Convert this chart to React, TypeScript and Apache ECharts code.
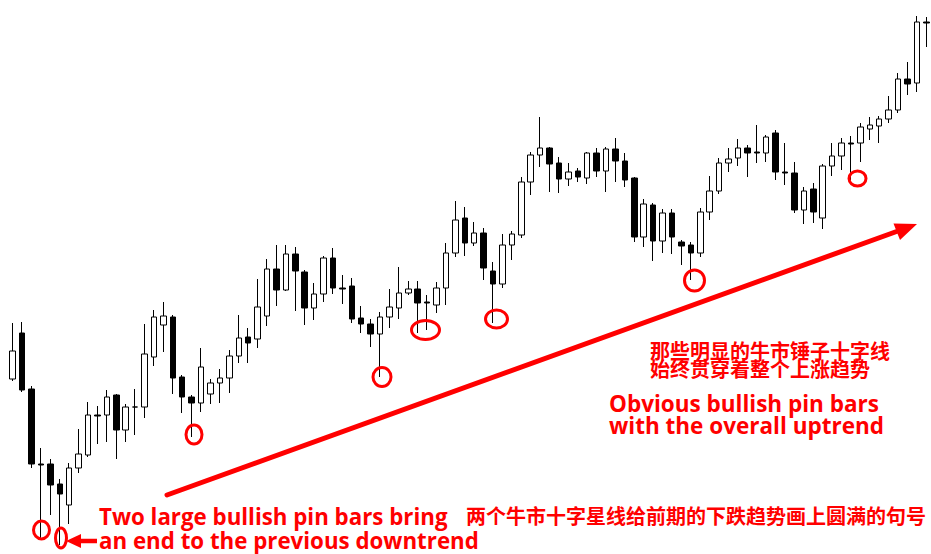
import React, { useEffect, useRef } from "react";
import * as echarts from "echarts";

// Each candle: open, close, low, high (price units)
const opens = [221,267,211,136,136,116,95,132,145,185,185,205,170,193,193,243,275,283,223,203,197,206,217,222,244,263,261,284,331,310,346,328,292,306,342,312,314,282,276,266,283,292,307,311,298,295,312,347,382,357,367,329,316,355,365,418,445,452,437,421,429,422,447,429,451,439,422,363,395,359,387,358,355,347,388,409,437,442,452,448,447,467,428,427,390,411,382,434,444,457,457,471,474,481,490,521,517,578];
const closes = [249,210,136,135,115,106,132,146,185,184,203,170,193,193,246,283,284,222,203,197,233,217,222,244,262,257,293,331,310,346,329,292,306,342,312,311,281,276,266,283,293,307,311,297,297,312,347,380,357,367,332,316,355,366,418,445,452,436,421,428,423,447,429,451,439,420,363,396,359,387,363,354,347,388,409,437,441,452,447,447,463,428,427,390,409,388,434,444,457,456,473,475,481,490,521,516,578,577];
const lows = [219,208,132,62,85,55,76,127,143,156,158,141,158,165,182,234,248,206,187,163,188,196,197,207,237,237,252,274,294,309,289,275,280,298,306,296,277,267,253,223,272,281,305,267,270,287,295,343,344,354,320,277,312,340,362,405,433,408,407,414,418,416,423,408,418,413,358,353,339,347,346,335,320,343,380,406,428,434,423,437,438,420,415,387,376,377,371,424,430,420,438,460,457,477,487,505,508,553];
const highs = [277,278,214,152,141,121,137,171,198,194,210,206,196,211,276,290,298,285,225,205,252,221,231,250,285,272,321,341,355,355,353,330,317,344,352,325,322,294,281,288,311,333,319,319,305,318,357,399,393,378,372,338,366,369,423,448,483,453,443,437,432,448,452,453,462,447,423,401,397,391,391,360,358,392,424,442,452,461,455,475,465,470,457,438,413,417,436,457,462,464,477,483,484,504,527,538,584,583];
const categories = opens.map((_, i) => `D${i + 1}`);

const priceMin = 46;
const priceMax = 600;

const RED = "#ff0000";

const englishFont = "'Open Sans', 'DejaVu Sans', sans-serif";
const cjkFont = "'Noto Sans CJK SC', sans-serif";

const pinCircles = [
  { cx: 41.5, cy: 530, rx: 8, ry: 9 },
  { cx: 61, cy: 538, rx: 5.5, ry: 10 },
  { cx: 194, cy: 434.5, rx: 8, ry: 9.5 },
  { cx: 382, cy: 377, rx: 9, ry: 9.5 },
  { cx: 425.5, cy: 330, rx: 14, ry: 9.5 },
  { cx: 496.5, cy: 319, rx: 11, ry: 9 },
  { cx: 694.5, cy: 280.5, rx: 10, ry: 10.5 },
  { cx: 857.5, cy: 178.5, rx: 8.5, ry: 7.5 },
];

export default function App() {
  const ref = useRef<HTMLDivElement>(null);
  useEffect(() => {
    if (!ref.current) return;
    const chart = echarts.init(ref.current, null, { renderer: "svg" });
    const data = opens.map((o, i) => [o, closes[i], lows[i], highs[i]]);
    const graphics: any[] = [];
    pinCircles.forEach((c) => {
      graphics.push({
        type: "ellipse",
        shape: c,
        style: { fill: "none", stroke: RED, lineWidth: 3 },
        z: 100,
      });
    });
    // main uptrend arrow
    graphics.push({
      type: "line",
      shape: { x1: 167, y1: 495, x2: 898, y2: 231 },
      style: { stroke: RED, lineWidth: 5, lineCap: "round" },
      z: 100,
    });
    graphics.push({
      type: "polygon",
      shape: { points: [[917, 224], [893.5, 223.5], [900, 240]] },
      style: { fill: RED },
      z: 100,
    });
    // small left arrow
    graphics.push({
      type: "line",
      shape: { x1: 79, y1: 541, x2: 97, y2: 541 },
      style: { stroke: RED, lineWidth: 4.5 },
      z: 100,
    });
    graphics.push({
      type: "polygon",
      shape: { points: [[66, 541], [81, 534], [81, 548]] },
      style: { fill: RED },
      z: 100,
    });
    const txt = (
      text: string,
      x: number,
      y: number,
      font: string,
      size: number,
      lineHeight: number
    ) => ({
      type: "text",
      x,
      y,
      z: 100,
      style: {
        text,
        fill: RED,
        fontFamily: font,
        fontSize: size,
        fontWeight: "bold",
        lineHeight,
        verticalAlign: "middle",
        align: "left",
      },
    });
    graphics.push(
      txt("Two large bullish pin bars bring\nan end to the previous downtrend", 99, 528.5, englishFont, 22.3, 24)
    );
    graphics.push(txt("两个牛市十字星线给前期的下跌趋势画上圆满的句号", 466, 515, cjkFont, 20, 20));
    graphics.push(txt("那些明显的牛市锤子十字线\n始终贯穿着整个上涨趋势", 650, 359.5, cjkFont, 20, 17.5));
    graphics.push(
      txt("Obvious bullish pin bars\nwith the overall uptrend", 609, 414, englishFont, 22.5, 22)
    );

    chart.setOption({
      animation: false,
      backgroundColor: "#ffffff",
      grid: { left: 8, top: 0, width: 926.8, height: 554 },
      xAxis: {
        type: "category",
        data: categories,
        boundaryGap: true,
        show: false,
      },
      yAxis: {
        type: "value",
        min: priceMin,
        max: priceMax,
        show: false,
        splitLine: { show: false },
      },
      series: [
        {
          type: "candlestick",
          data,
          barWidth: 6,
          itemStyle: {
            color: "#ffffff",
            color0: "#000000",
            borderColor: "#000000",
            borderColor0: "#000000",
            borderWidth: 1,
          },
        },
      ],
      graphic: graphics,
    });
    return () => chart.dispose();
  }, []);
  return (
    <div
      ref={ref}
      style={{ position: "absolute", left: 0, top: 0, width: 931, height: 554 }}
    />
  );
}
